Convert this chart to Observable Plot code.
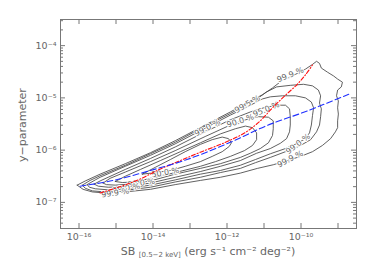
<!DOCTYPE html>
<html><head><meta charset="utf-8">
<script src="https://cdn.jsdelivr.net/npm/d3@7"></script>
<script src="https://cdn.jsdelivr.net/npm/@observablehq/plot@0.6"></script>
<style>body{margin:0;background:#fff}</style>
</head><body><div id="chart"></div>
<script>
// ---- data (log10 values) ----
const levels = ["99.9", "99.5", "99.0", "95.0", "90.0", "80.0", "50.0"];

const c999 = [[-16.05,-6.67],[-15.83,-6.59],[-15.43,-6.46],[-14.75,-6.26],[-14.07,-6.05],[-13.40,-5.82],[-12.59,-5.52],[-11.91,-5.27],[-11.37,-5.06],[-11.04,-4.94],[-10.77,-4.81],[-10.50,-4.66],[-10.15,-4.55],[-9.88,-4.45],[-9.69,-4.36],[-9.58,-4.30],[-9.50,-4.34],[-9.45,-4.43],[-9.28,-4.51],[-9.12,-4.58],[-9.01,-4.64],[-8.88,-4.70],[-8.91,-4.79],[-9.01,-4.85],[-9.04,-4.96],[-8.99,-5.06],[-9.01,-5.19],[-8.99,-5.31],[-9.01,-5.44],[-9.01,-5.57],[-9.07,-5.65],[-9.20,-5.78],[-9.42,-5.91],[-9.69,-6.03],[-10.01,-6.12],[-10.37,-6.20],[-10.75,-6.28],[-11.18,-6.35],[-11.64,-6.44],[-12.18,-6.52],[-12.72,-6.58],[-13.40,-6.66],[-14.07,-6.75],[-14.75,-6.80],[-15.29,-6.82],[-15.64,-6.80],[-15.89,-6.75]];
const c995 = [[-15.91,-6.67],[-15.70,-6.58],[-15.43,-6.49],[-14.75,-6.29],[-14.07,-6.07],[-13.40,-5.85],[-12.59,-5.54],[-11.91,-5.30],[-11.45,-5.12],[-11.15,-5.00],[-10.94,-4.89],[-10.66,-4.79],[-10.29,-4.76],[-9.93,-4.74],[-9.69,-4.77],[-9.53,-4.85],[-9.47,-4.96],[-9.50,-5.10],[-9.45,-5.21],[-9.47,-5.36],[-9.50,-5.52],[-9.58,-5.65],[-9.74,-5.80],[-10.01,-5.91],[-10.42,-6.03],[-10.83,-6.14],[-11.23,-6.24],[-11.64,-6.35],[-12.18,-6.43],[-12.72,-6.52],[-13.40,-6.61],[-14.07,-6.71],[-14.75,-6.77],[-15.29,-6.80],[-15.64,-6.78],[-15.83,-6.73]];
const c990 = [[-15.78,-6.66],[-15.56,-6.57],[-15.43,-6.52],[-14.75,-6.31],[-14.07,-6.10],[-13.40,-5.88],[-12.59,-5.58],[-11.91,-5.33],[-11.50,-5.19],[-11.23,-5.09],[-11.04,-5.02],[-10.83,-4.98],[-10.50,-4.96],[-10.15,-4.96],[-9.88,-5.00],[-9.72,-5.08],[-9.66,-5.19],[-9.69,-5.34],[-9.72,-5.52],[-9.77,-5.67],[-9.88,-5.78],[-10.10,-5.87],[-10.42,-5.97],[-10.83,-6.07],[-11.23,-6.18],[-11.64,-6.29],[-12.18,-6.39],[-12.72,-6.46],[-13.40,-6.57],[-14.07,-6.67],[-14.75,-6.74],[-15.21,-6.76],[-15.56,-6.74],[-15.72,-6.71]];
const c950 = [[-15.59,-6.65],[-15.43,-6.59],[-14.75,-6.37],[-14.07,-6.16],[-13.40,-5.94],[-12.59,-5.65],[-11.91,-5.42],[-11.37,-5.27],[-10.96,-5.18],[-10.61,-5.14],[-10.42,-5.14],[-10.31,-5.21],[-10.29,-5.36],[-10.29,-5.52],[-10.31,-5.65],[-10.39,-5.78],[-10.56,-5.87],[-10.83,-5.97],[-11.20,-6.06],[-11.64,-6.20],[-12.18,-6.31],[-12.72,-6.41],[-13.40,-6.52],[-14.07,-6.63],[-14.75,-6.70],[-15.21,-6.71],[-15.48,-6.69]];
const c900 = [[-15.35,-6.63],[-15.16,-6.54],[-14.75,-6.42],[-14.07,-6.22],[-13.40,-6.01],[-12.59,-5.74],[-11.91,-5.52],[-11.50,-5.42],[-11.15,-5.36],[-10.88,-5.37],[-10.75,-5.44],[-10.75,-5.59],[-10.77,-5.72],[-10.88,-5.86],[-11.10,-5.97],[-11.37,-6.06],[-11.64,-6.14],[-12.18,-6.26],[-12.72,-6.35],[-13.40,-6.46],[-14.07,-6.59],[-14.61,-6.65],[-15.02,-6.67],[-15.26,-6.66]];
const c800 = [[-15.02,-6.60],[-14.75,-6.50],[-14.34,-6.37],[-13.80,-6.20],[-13.26,-6.03],[-12.72,-5.86],[-12.18,-5.69],[-11.77,-5.59],[-11.50,-5.54],[-11.31,-5.57],[-11.20,-5.67],[-11.20,-5.80],[-11.31,-5.91],[-11.53,-6.01],[-11.91,-6.12],[-12.31,-6.22],[-12.72,-6.31],[-13.40,-6.43],[-14.07,-6.54],[-14.48,-6.61],[-14.83,-6.62]];
const c500 = [[-14.29,-6.46],[-13.94,-6.33],[-13.53,-6.18],[-13.13,-6.03],[-12.72,-5.89],[-12.40,-5.80],[-12.13,-5.75],[-11.96,-5.78],[-11.88,-5.86],[-11.94,-5.93],[-12.13,-6.03],[-12.40,-6.12],[-12.72,-6.22],[-13.13,-6.31],[-13.53,-6.39],[-13.94,-6.43]];

const blueX = [-15.97, -15.07, -14.07, -13.08, -11.91, -10.92, -9.83, -8.71];
const blueY = [-6.69, -6.58, -6.39, -6.18, -5.85, -5.53, -5.25, -4.93];
const redX = [-15.43, -14.89, -14.34, -13.80, -13.26, -12.72, -12.04, -11.50, -11.10, -10.77, -10.42, -10.10, -9.88, -9.69];
const redY = [-6.82, -6.70, -6.55, -6.36, -6.20, -6.04, -5.85, -5.66, -5.44, -5.19, -4.95, -4.74, -4.56, -4.37];

const labelText = ["99.0 %", "90.0 %", "99.5 %", "95.0 %", "99.9 %", "50.0 %", "80.0 %", "99.0 %", "99.9 %", "99.0 %", "99.9 %"];
const labelX = [-12.53, -11.64, -11.45, -10.94, -10.29, -13.67, -14.32, -14.72, -15.02, -10.08, -10.29];
const labelY = [-5.57, -5.44, -5.12, -5.22, -4.56, -6.43, -6.63, -6.73, -6.82, -5.88, -6.17];
const labelAngle = [-28, -18, -30, -22, -22, -10, -8, -10, -8, -38, -27];

const xTickExps = [-16, -15, -14, -13, -12, -11, -10, -9];
const xLabelExps = [-16, -14, -12, -10];
const yTickExps = [-7, -6, -5, -4];
const minorMantissas = [2, 3, 4, 5, 6, 7, 8, 9];

// ---- layout ----
const W = 374, H = 267, mL = 60, mR = 18, mT = 19, mB = 39;
const FW = W - mL - mR, FH = H - mT - mB;
const supMap = {"-": "\u207B", "0": "\u2070", "1": "\u00B9", "2": "\u00B2", "3": "\u00B3", "4": "\u2074", "5": "\u2075", "6": "\u2076", "7": "\u2077", "8": "\u2078", "9": "\u2079"};
const pow = e => "10" + String(e).split("").map(c => supMap[c]).join("");

const contours = [c999, c995, c990, c950, c900, c800, c500];
const contourRows = contours.flatMap((pts, i) => [...pts, pts[0]].map(([lx, ly]) => ({x: 10 ** lx, y: 10 ** ly, level: levels[i]})));
const blueRows = blueX.map((v, i) => ({x: 10 ** v, y: 10 ** blueY[i]}));
const redRows = redX.map((v, i) => ({x: 10 ** v, y: 10 ** redY[i]}));
const labelRows = labelText.map((t, i) => ({t, x: 10 ** labelX[i], y: 10 ** labelY[i], r: labelAngle[i]}));
const yMinor = [-8, -7, -6, -5, -4].flatMap(d => minorMantissas.map(m => m * 10 ** d)).filter(v => v > 10 ** -7.5 && v < 10 ** -3.5);
const xT = xTickExps.map(e => 10 ** e), yT = yTickExps.map(e => 10 ** e);

const axisColor = "#777";
const textColor = "#666";
const plot = Plot.plot({
  width: W, height: H, marginLeft: mL, marginRight: mR, marginTop: mT, marginBottom: mB,
  x: {type: "log", domain: [10 ** -16.5, 10 ** -8.5], axis: null},
  y: {type: "log", domain: [10 ** -7.5, 10 ** -3.5], axis: null},
  style: {fontFamily: "DejaVu Sans, sans-serif", background: "white", color: textColor, overflow: "visible"},
  marks: [
    Plot.line(contourRows, {x: "x", y: "y", z: "level", stroke: "#444", strokeWidth: 0.85}),
    Plot.text(labelRows, {x: "x", y: "y", text: "t", rotate: "r", fontSize: 8, fill: textColor, stroke: "white", strokeWidth: 2, paintOrder: "stroke"}),
    Plot.line(redRows, {x: "x", y: "y", stroke: "#ff1010", strokeWidth: 1.1, strokeDasharray: "4,2,1,2", curve: "catmull-rom"}),
    Plot.line(blueRows, {x: "x", y: "y", stroke: "#2030ff", strokeWidth: 1.1, strokeDasharray: "6,3", curve: "catmull-rom"}),
    Plot.frame({stroke: axisColor}),
    Plot.ruleX(xT, {x: d => d, insetTop: FH - 5, stroke: axisColor}),
    Plot.ruleX(xT, {x: d => d, insetBottom: FH - 5, stroke: axisColor}),
    Plot.ruleY(yT, {y: d => d, insetRight: FW - 5, stroke: axisColor}),
    Plot.ruleY(yT, {y: d => d, insetLeft: FW - 5, stroke: axisColor}),
    Plot.ruleY(yMinor, {y: d => d, insetRight: FW - 3, stroke: axisColor}),
    Plot.ruleY(yMinor, {y: d => d, insetLeft: FW - 3, stroke: axisColor}),
    Plot.text(xLabelExps, {x: d => 10 ** d, frameAnchor: "bottom", dy: 11, text: d => pow(d), fontSize: 9.5, fill: textColor}),
    Plot.text(yTickExps, {y: d => 10 ** d, frameAnchor: "left", dx: -4, textAnchor: "end", text: d => pow(d), fontSize: 9.5, fill: textColor})
  ]
});

const svg = d3.select(plot);
svg.append("text")
  .attr("transform", "translate(23,125) rotate(-90)")
  .attr("text-anchor", "middle").attr("dominant-baseline", "middle")
  .attr("font-size", 11).attr("fill", textColor).attr("font-family", "DejaVu Sans, sans-serif")
  .text("y\u2212parameter");
const xt = svg.append("text")
  .attr("x", 208).attr("y", 255).attr("text-anchor", "middle")
  .attr("font-size", 11).attr("fill", textColor).attr("font-family", "DejaVu Sans, sans-serif");
xt.append("tspan").text("SB ");
xt.append("tspan").attr("font-size", 7).attr("dy", 2).text("[0.5\u22122 keV]");
xt.append("tspan").attr("dy", -2).text(" (erg s\u207B\u00B9 cm\u207B\u00B2 deg\u207B\u00B2)");

document.getElementById("chart").appendChild(plot);
</script>
</body></html>
